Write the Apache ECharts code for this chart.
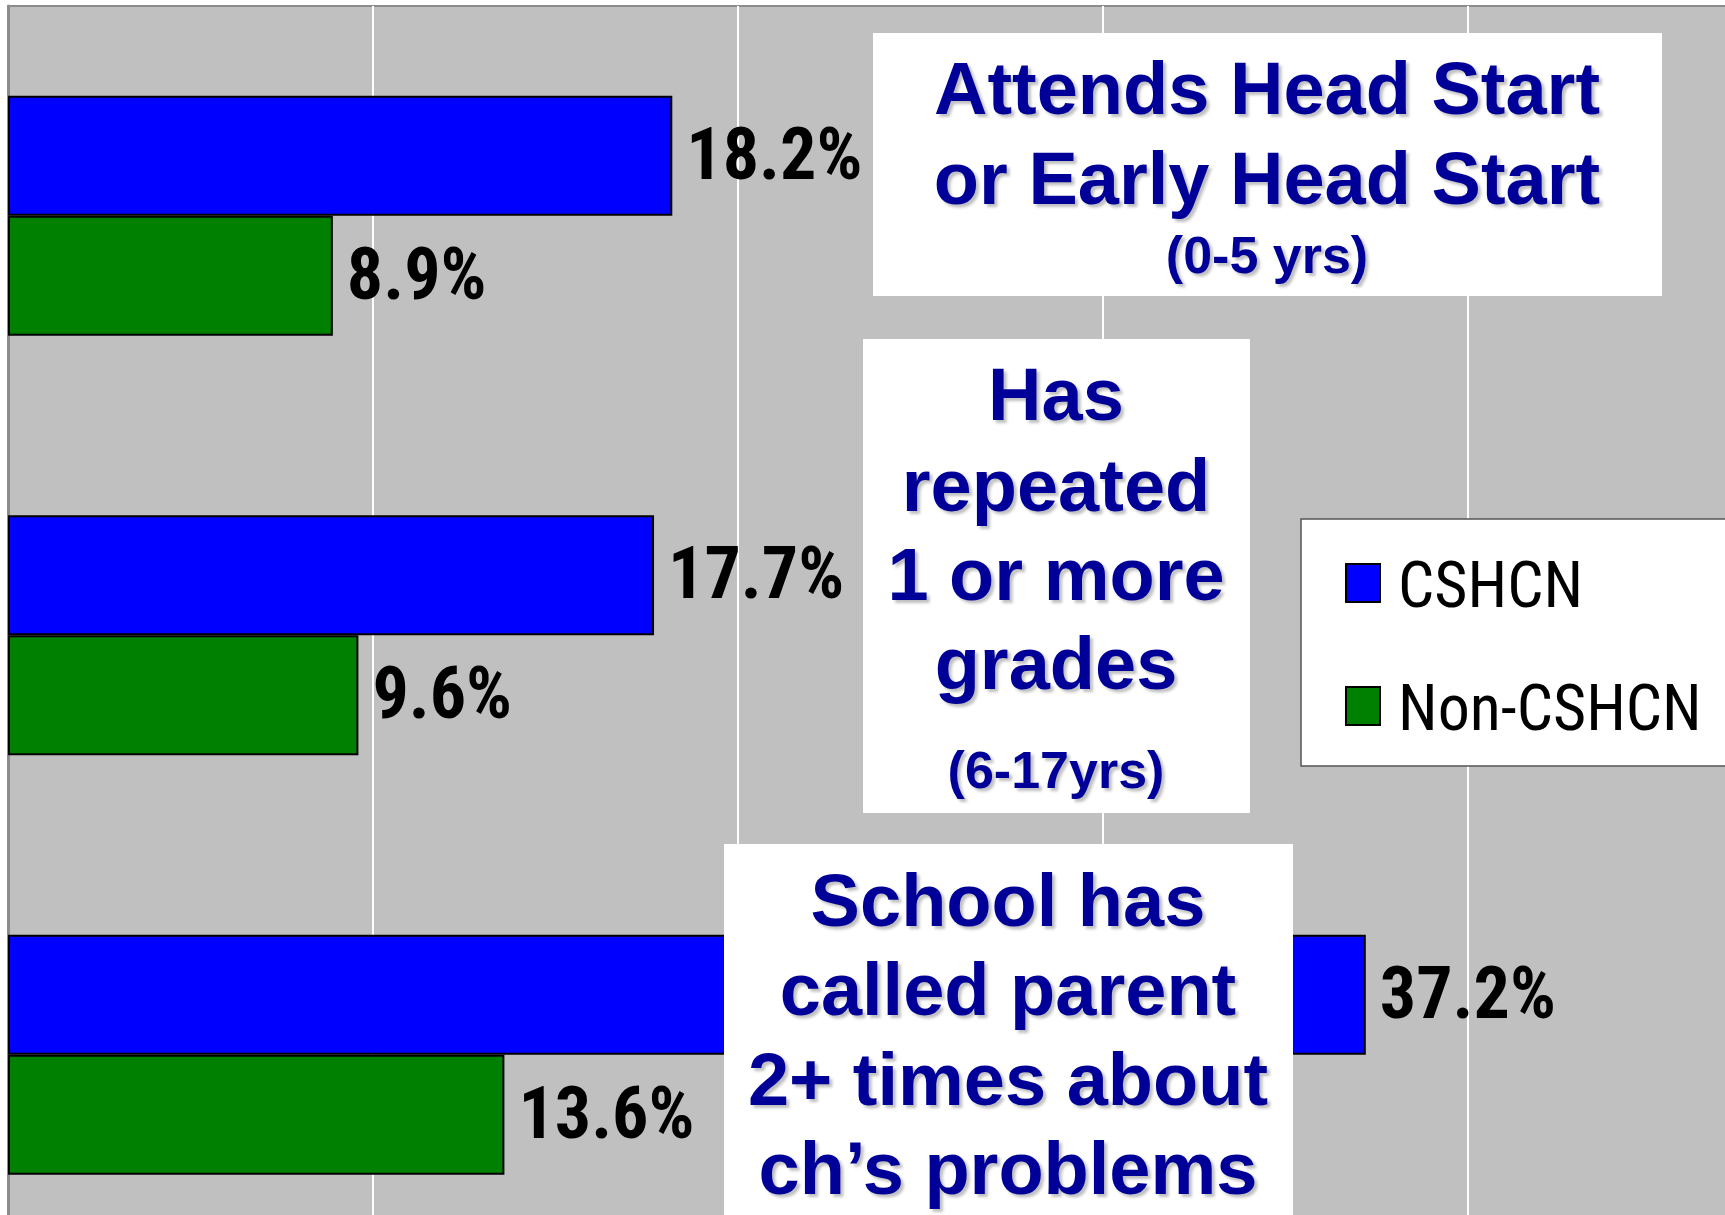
<!DOCTYPE html>
<html>
<head>
<meta charset="utf-8">
<script src="https://cdn.jsdelivr.net/npm/echarts@6/dist/echarts.min.js"></script>
<style>
  html, body { margin: 0; padding: 0; background: #fff; }
  #main { width: 1725px; height: 1215px; }
</style>
</head>
<body>
<div id="main"></div>
<script>
// data
var categories = ['Attends Head Start', 'Has repeated 1 or more grades', 'School has called parent'];
var seriesNames = ['CSHCN', 'Non-CSHCN'];
var cshcnValues = [18.2, 17.7, 37.2];
var nonCshcnValues = [8.9, 9.6, 13.6];

// text of the white label boxes
var box1Lines = ['Attends Head Start', 'or Early Head Start', '(0-5 yrs)'];
var box2Lines = ['Has', 'repeated', '1 or more', 'grades', '(6-17yrs)'];
var box3Lines = ['School has', 'called parent', '2+ times about', 'ch\u2019s problems'];

var chart = echarts.init(document.getElementById('main'));

var NARROW = '"Roboto Condensed", "Liberation Sans", sans-serif';
var BOLD = '"Liberation Sans", Arial, sans-serif';

// one text line, y is the baseline
function line(text, cx, baseline, size) {
  var shift = size > 60 ? 4 : 0;
  return {
    type: 'text',
    z: 101,
    style: {
      text: text,
      x: cx,
      y: baseline - size * 0.3465 + shift,
      fill: '#000099',
      font: 'bold ' + size + 'px ' + BOLD,
      align: 'center',
      verticalAlign: 'middle',
      textShadowColor: 'rgba(0,0,0,0.25)',
      textShadowBlur: 3,
      textShadowOffsetX: 3,
      textShadowOffsetY: 3
    }
  };
}

function box(x, y, w, h) {
  return { type: 'rect', z: 100, shape: { x: x, y: y, width: w, height: h }, style: { fill: '#fff' } };
}

var graphics = [
  box(873, 33, 789, 263),
  line(box1Lines[0], 1267, 115, 74),
  line(box1Lines[1], 1267, 205, 74),
  line(box1Lines[2], 1267, 277, 52),
  box(863, 339, 387, 474),
  line(box2Lines[0], 1056, 421, 74),
  line(box2Lines[1], 1056, 512, 74),
  line(box2Lines[2], 1056, 601, 74),
  line(box2Lines[3], 1056, 690, 74),
  line(box2Lines[4], 1056, 792, 52),
  box(724, 844, 569, 400),
  line(box3Lines[0], 1008, 927, 74),
  line(box3Lines[1], 1008, 1016, 74),
  line(box3Lines[2], 1008, 1106, 74),
  line(box3Lines[3], 1008, 1195, 74)
];

var labelStyle = {
  show: true,
  position: 'right',
  distance: 14,
  offset: [0, 5],
  formatter: '{c}%',
  fontFamily: NARROW,
  fontWeight: 'bold',
  fontSize: 72,
  color: '#000'
};

var option = {
  animation: false,
  backgroundColor: '#fff',
  grid: {
    left: 8,
    top: 6,
    width: 1825,
    height: 1258.5,
    outerBoundsMode: 'none',
    containLabel: false,
    show: true,
    backgroundColor: '#c0c0c0',
    borderColor: '#8c8c8c',
    borderWidth: 2
  },
  legend: {
    orient: 'vertical',
    left: 1301,
    top: 519,
    data: seriesNames,
    icon: 'rect',
    itemWidth: 34,
    itemHeight: 38,
    itemGap: 43,
    padding: [24, 80, 20, 44],
    backgroundColor: '#fff',
    borderColor: '#555',
    borderWidth: 1.5,
    borderRadius: 0,
    itemStyle: { borderColor: '#000', borderWidth: 2 },
    formatter: '{t|{name}}',
    textStyle: {
      fontFamily: NARROW,
      fontSize: 64,
      color: '#000',
      rich: {
        t: {
          fontFamily: NARROW,
          fontSize: 64,
          color: '#000',
          lineHeight: 64,
          padding: [16, 0, 0, 13]
        }
      }
    }
  },
  xAxis: {
    type: 'value',
    min: 0,
    max: 50,
    interval: 10,
    axisLabel: { show: false },
    axisLine: { show: false },
    axisTick: { show: false },
    splitLine: { show: true, lineStyle: { color: '#fff', width: 2 } }
  },
  yAxis: {
    type: 'category',
    inverse: true,
    data: categories,
    axisLabel: { show: false },
    axisTick: { show: false },
    axisLine: { show: true, lineStyle: { color: '#8c8c8c', width: 3 } }
  },
  series: [
    {
      name: seriesNames[0],
      type: 'bar',
      data: cshcnValues,
      barWidth: 120,
      barGap: '0%',
      itemStyle: { color: '#0000ff', borderColor: '#000', borderWidth: 2 },
      label: labelStyle
    },
    {
      name: seriesNames[1],
      type: 'bar',
      data: nonCshcnValues,
      barWidth: 120,
      barGap: '0%',
      itemStyle: { color: '#008000', borderColor: '#000', borderWidth: 2 },
      label: labelStyle
    }
  ],
  graphic: graphics
};

chart.setOption(option);
</script>
</body>
</html>
